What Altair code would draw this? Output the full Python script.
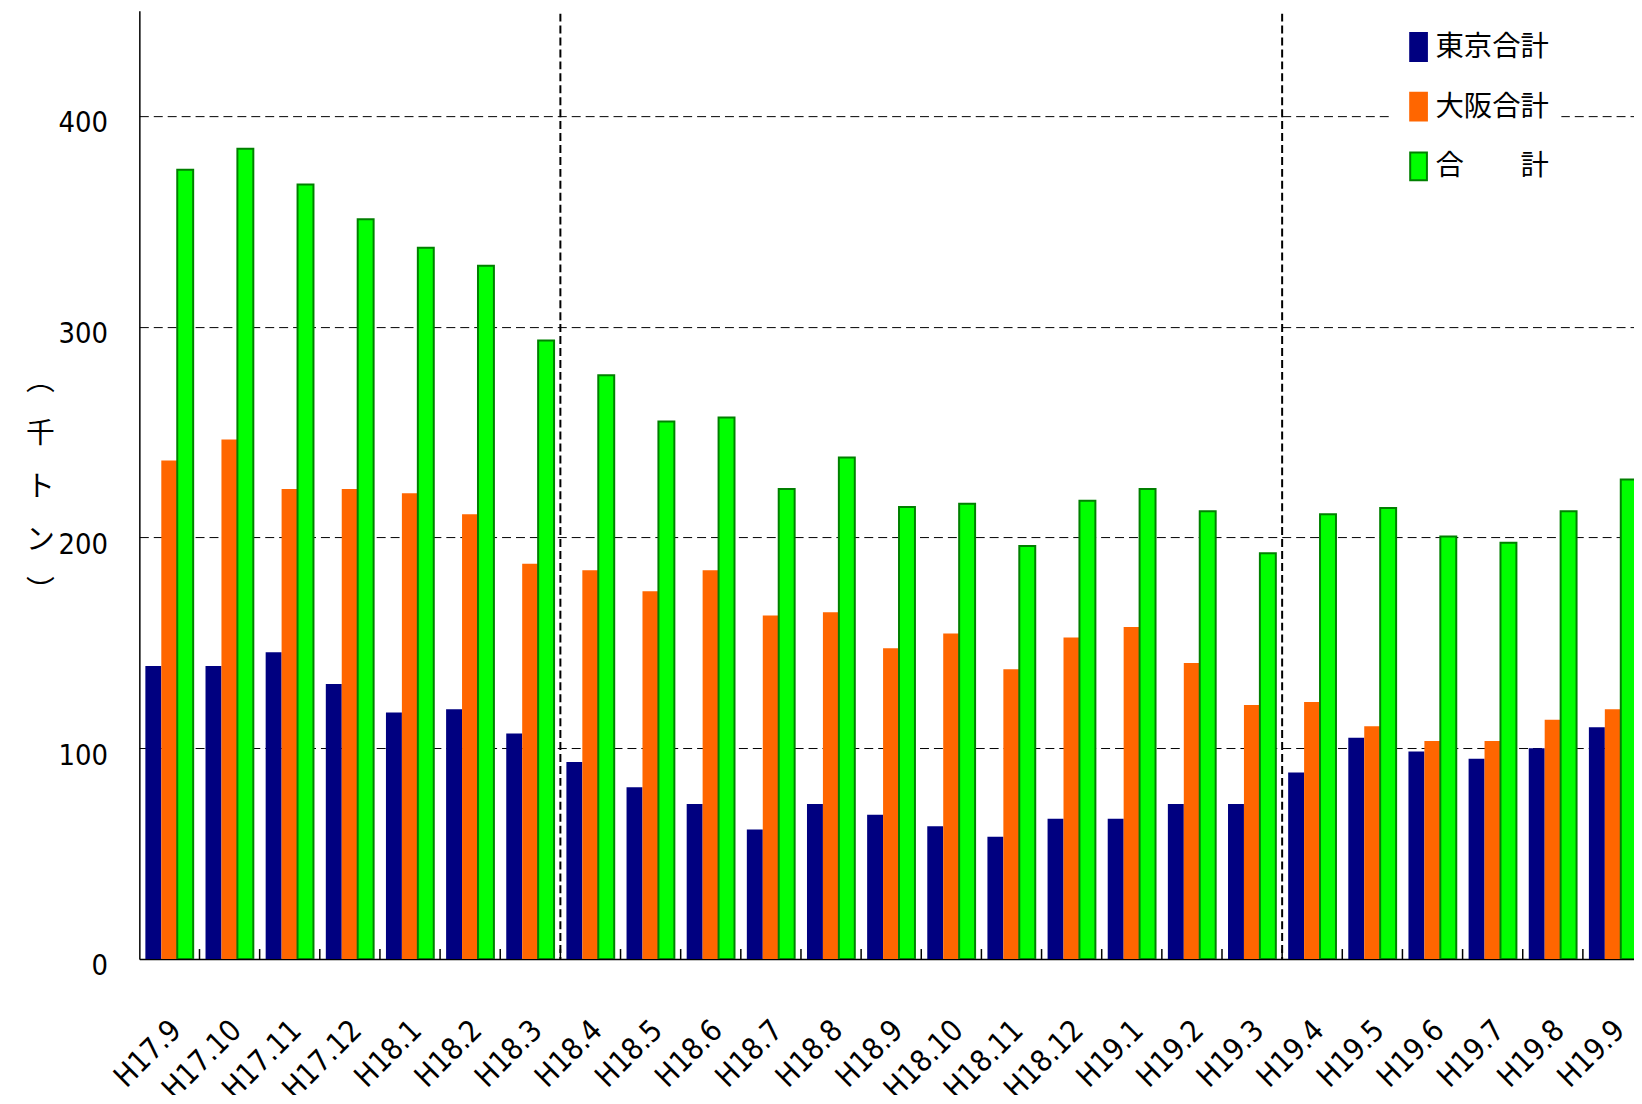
import json
import altair as alt
import pandas as pd

months = ["H17.9", "H17.10", "H17.11", "H17.12", "H18.1", "H18.2", "H18.3",
          "H18.4", "H18.5", "H18.6", "H18.7", "H18.8", "H18.9", "H18.10",
          "H18.11", "H18.12", "H19.1", "H19.2", "H19.3", "H19.4", "H19.5",
          "H19.6", "H19.7", "H19.8", "H19.9"]
tokyo = [139, 139, 145.5, 130.5, 117, 118.5, 107, 93.5, 81.5, 73.5, 61.5, 73.5,
         68.5, 63, 58, 66.5, 66.5, 73.5, 73.5, 88.5, 105, 98.5, 95, 100, 110]
osaka = [236.5, 246.5, 223, 223, 221, 211, 187.5, 184.5, 174.5, 184.5, 163, 164.5,
         147.5, 154.5, 137.5, 152.5, 157.5, 140.5, 120.5, 122, 110.5, 103.5, 103.5,
         113.5, 118.5]
total = [374.5, 384.5, 367.5, 351, 337.5, 329, 293.5, 277, 255, 257, 223, 238,
         214.5, 216, 196, 217.5, 223, 212.5, 192.5, 211, 214, 200.5, 197.5, 212.5, 227.5]
series_names = ["東京合計", "大阪合計", "合　　計"]
fill_colors = ["#000080", "#FF6600", "#00FF00"]
stroke_colors = ["#000080", "#FF6600", "#008000"]
fiscal_starts = ["H18.4", "H19.4"]
y_ticks = [0, 100, 200, 300, 400]
y_title = ["︵", "千", "ト", "ン", "︶"]

rows = []
for i, m in enumerate(months):
    for k, (name, vals) in enumerate(zip(series_names, [tokyo, osaka, total])):
        rows.append({"month": m, "idx": i, "series": name, "k": k, "value": vals[i]})
df = pd.DataFrame(rows)
fy_df = pd.DataFrame({"month": fiscal_starts, "idx": [months.index(m) for m in fiscal_starts]})
tick_df = pd.DataFrame({"month": months[1:], "idx": list(range(1, len(months)))})

W, H = 1502, 953
LAT = "Liberation Sans Narrow, Arial Narrow, DejaVu Sans Condensed, sans-serif"
CJK = "Noto Sans CJK JP"

# 25 month slots, of which the last one is partly cut off at the right edge
xscale = alt.Scale(domain=[0, 24.85], nice=False, zero=False)
yscale = alt.Scale(domain=[0, 450], nice=False)

legend = alt.Legend(orient="none", legendX=1259, legendY=10, fillColor="white",
                    padding=11.5, title=None, labelFont=CJK, labelFontSize=28.5,
                    labelColor="black", symbolType="M-0.6,-1H0.6V1H-0.6Z",
                    symbolSize=784, symbolStrokeWidth=2, rowPadding=24, labelOffset=2)

x_axis = alt.Axis(values=[i + 0.5 for i in range(len(months))],
                  labelExpr=json.dumps(months) + "[floor(datum.value)]",
                  labelAngle=-45, labelAlign="right", labelBaseline="top",
                  labelPadding=56, labelOffset=-4, ticks=False, domainColor="black",
                  domainWidth=1.5, grid=False, title=None, labelFont=LAT,
                  labelFontSize=30, labelColor="black", labelOverlap=False,
                  labelFlush=False)

bars = alt.Chart(df).transform_calculate(
    x0="datum.idx + 0.1 + datum.k * 0.265",
    x1="datum.idx + 0.1 + (datum.k + 1) * 0.265",
).mark_bar(clip=True).encode(
    x=alt.X("x0:Q", scale=xscale, axis=x_axis),
    x2="x1:Q",
    y=alt.Y("value:Q", scale=yscale,
            axis=alt.Axis(values=y_ticks, grid=True, gridDash=[9, 5], gridColor="black",
                          gridWidth=1, ticks=False, domainColor="black", domainWidth=1.5,
                          labelFont=LAT, labelFontSize=29, labelPadding=32,
                          labelColor="black", labelOffset=7,
                          title=y_title, titleAngle=0, titleX=-100, titleY=372,
                          titleAlign="center", titleBaseline="middle", titleLineHeight=53,
                          titleFont=CJK, titleFontSize=29, titleFontWeight="normal",
                          titleColor="black")),
    y2=alt.datum(0),
    color=alt.Color("series:N", sort=series_names,
                    scale=alt.Scale(domain=series_names, range=fill_colors), legend=legend),
    stroke=alt.Stroke("series:N", sort=series_names,
                      scale=alt.Scale(domain=series_names, range=stroke_colors), legend=legend),
    strokeWidth=alt.condition(alt.datum.series == series_names[2], alt.value(2), alt.value(0)),
)

fy_rules = alt.Chart(fy_df).mark_rule(color="black", strokeWidth=2, strokeDash=[8, 4]).encode(
    x=alt.X("idx:Q", scale=xscale),
    y=alt.value(3), y2=alt.value(H),
)

ticks = alt.Chart(tick_df).mark_rule(color="black", strokeWidth=1.5).encode(
    x=alt.X("idx:Q", scale=xscale),
    y=alt.value(H - 10), y2=alt.value(H),
)

chart = alt.layer(bars, fy_rules, ticks).properties(
    width=W, height=H,
    autosize=alt.AutoSizeParams(type="none"),
    padding={"left": 132, "top": 0, "right": 0, "bottom": 134},
).configure_view(stroke=None)

chart.save("out.html", embed_options={"renderer": "svg", "actions": False})
